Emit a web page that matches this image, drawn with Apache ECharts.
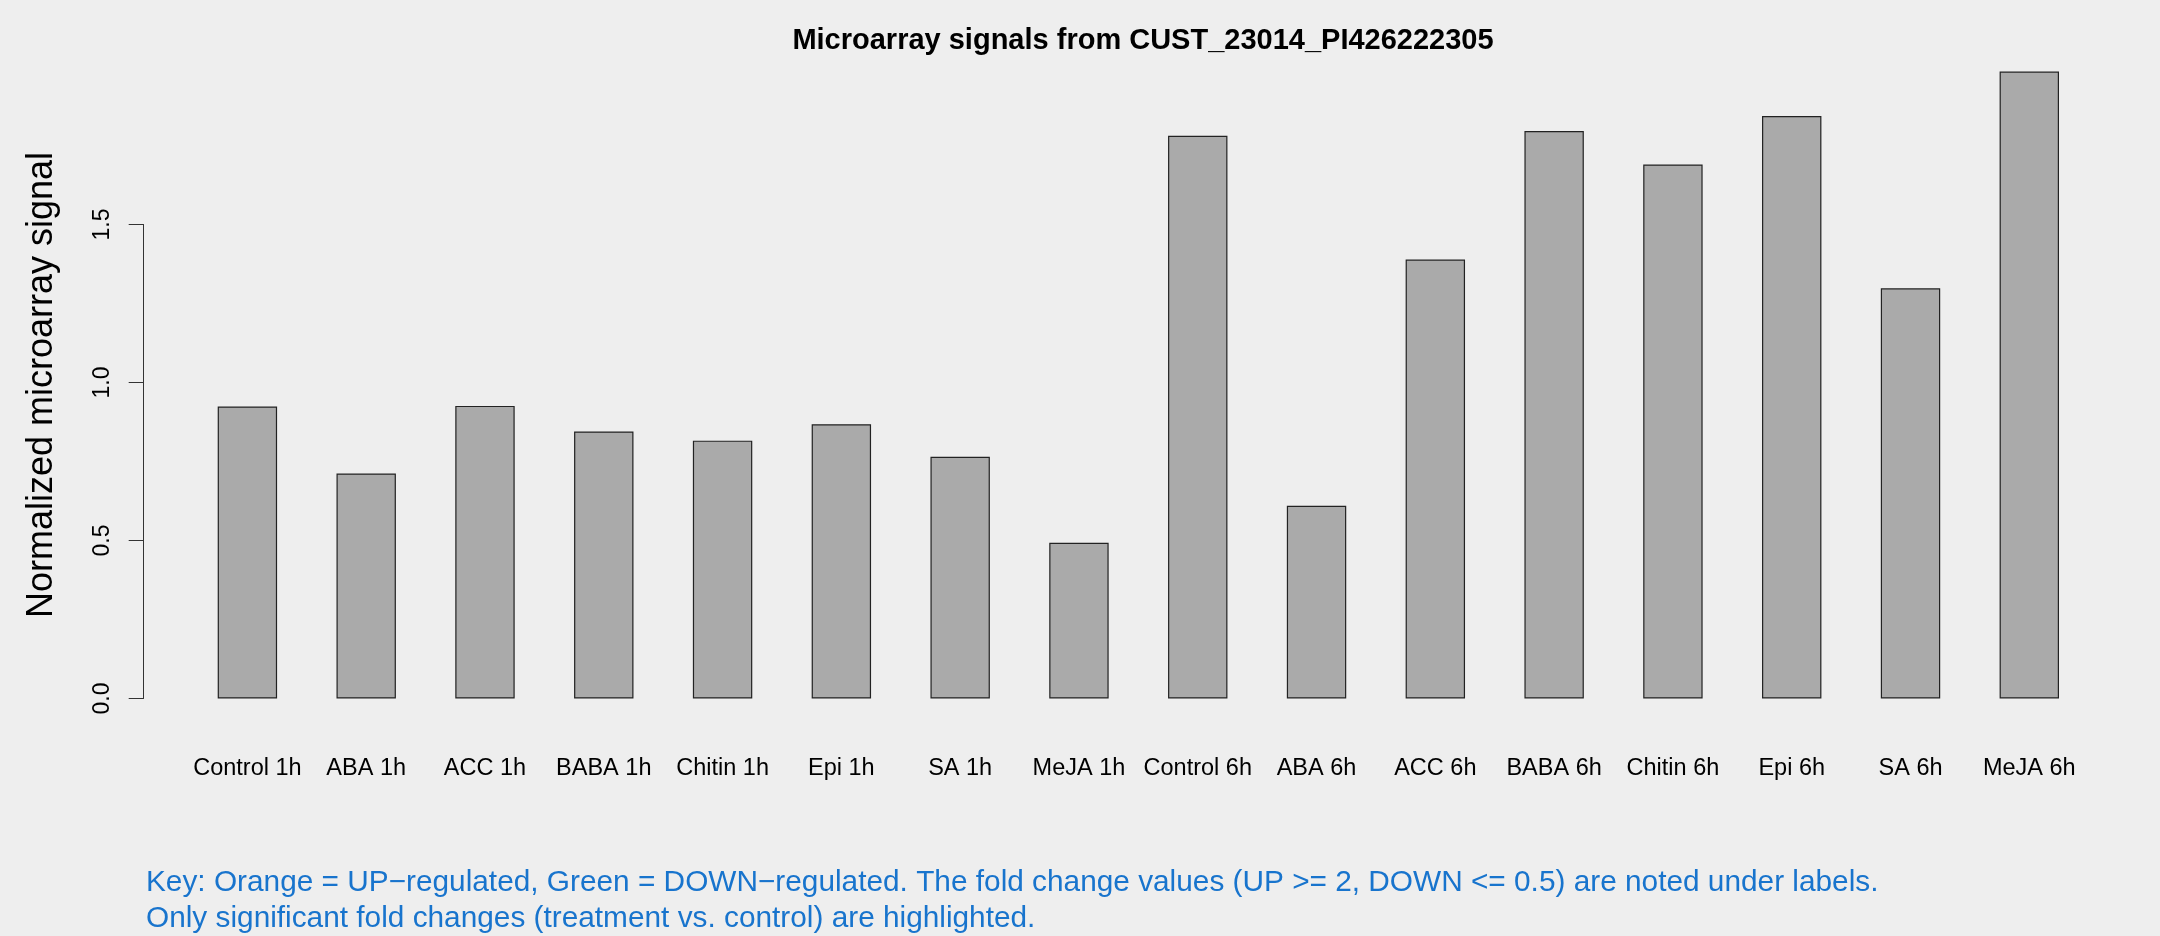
<!DOCTYPE html>
<html>
<head>
<meta charset="utf-8">
<script src="https://cdn.jsdelivr.net/npm/echarts@6/dist/echarts.min.js"></script>
<style>
html,body{margin:0;padding:0;background:#EEEEEE;}
#chart{width:2160px;height:936px;}
</style>
</head>
<body>
<div id="chart"></div>
<script>
const categories = ["Control 1h","ABA 1h","ACC 1h","BABA 1h","Chitin 1h","Epi 1h","SA 1h","MeJA 1h",
  "Control 6h","ABA 6h","ACC 6h","BABA 6h","Chitin 6h","Epi 6h","SA 6h","MeJA 6h"];
const signals = [0.924,0.712,0.926,0.845,0.816,0.868,0.765,0.493,
  1.781,0.610,1.389,1.796,1.690,1.843,1.298,1.984];
const yTicks = [0, 0.5, 1.0, 1.5];
const titleText = "Microarray signals from CUST_23014_PI426222305";
const yTitle = "Normalized microarray signal";
const footer1 = "Key: Orange = UP\u2212regulated, Green = DOWN\u2212regulated. The fold change values (UP >= 2, DOWN <= 0.5) are noted under labels.";
const footer2 = "Only significant fold changes (treatment vs. control) are highlighted.";

const FONT = "'Liberation Sans', Arial, Helvetica, sans-serif";
const chart = echarts.init(document.getElementById('chart'), null, {renderer:'canvas'});
const dataMax = Math.max(...signals);
const yLo = -0.04 * dataMax, yHi = dataMax * 1.04;

chart.setOption({
  backgroundColor: '#EEEEEE',
  animation: false,
  title: [
    {text: titleText, left: 1138, top: 21, textAlign: 'center',
     textStyle: {fontFamily: FONT, fontSize: 29, fontWeight: 'bold', color: '#000'}},
    {text: footer1, left: 141, top: 863,
     textStyle: {fontFamily: FONT, fontSize: 29.8, fontWeight: 'normal', color: '#1874CD'}},
    {text: footer2, left: 141, top: 899,
     textStyle: {fontFamily: FONT, fontSize: 29.8, fontWeight: 'normal', color: '#1874CD'}}
  ],
  grid: [
    {left: 188, right: 71.3, top: 698.5 - yHi*316, bottom: 936 - (698.5 - yLo*316)},
    {left: 188, right: 71.3, top: 698.5 - 1.5*316, bottom: 936 - 698.5}
  ],
  xAxis: [
    {type: 'category', gridIndex: 0, data: categories, boundaryGap: true,
     axisLine: {show: false}, axisTick: {show: false},
     axisLabel: {show: true, interval: 0, margin: 33, fontFamily: FONT, fontSize: 23.5, color: '#000'}},
    {type: 'category', gridIndex: 1, data: categories, show: false}
  ],
  yAxis: [
    {type: 'value', gridIndex: 0, min: yLo, max: yHi, offset: 44.3,
     axisLine: {show: false}, axisTick: {show: false}, axisLabel: {show: false}, splitLine: {show: false},
     name: yTitle, nameLocation: 'middle', nameRotate: 90, nameGap: 84,
     nameTextStyle: {fontFamily: FONT, fontSize: 36, color: '#000'}},
    {type: 'value', gridIndex: 1, min: 0, max: 1.5, interval: 0.5, offset: 44.3,
     axisLine: {show: true, lineStyle: {color: '#333', width: 1}},
     axisTick: {show: true, length: 15, lineStyle: {color: '#333', width: 1}},
     splitLine: {show: false},
     axisLabel: {show: true, rotate: 90, margin: 30, fontFamily: FONT, fontSize: 23, color: '#000',
       formatter: v => yTicks.includes(v) ? v.toFixed(1) : ''}}
  ],
  series: [
    {type: 'bar', xAxisIndex: 0, yAxisIndex: 0, data: signals, barWidth: '50%',
     itemStyle: {color: '#AAAAAA', borderColor: '#222', borderWidth: 1.2},
     emphasis: {disabled: true}}
  ]
});
</script>
</body>
</html>
